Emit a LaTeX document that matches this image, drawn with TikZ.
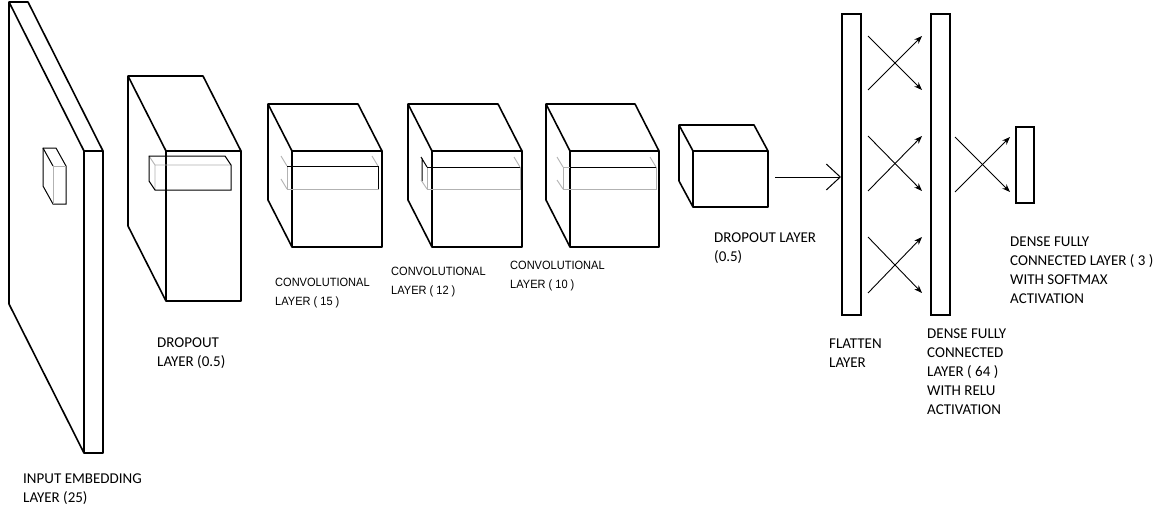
\documentclass[tikz,border=0pt]{standalone}
\usepackage{fontspec}
\setmainfont{Carlito}
\newfontfamily\arialf[FakeStretch=0.92]{Liberation Sans}
\usetikzlibrary{arrows.meta}
\newcommand\drawcuboid[6]{%
  \draw[boxline] (#1,#2) rectangle (#3,#4);
  \draw[boxline] (#1,#2) -- ++(-#5,-#6) -- ++({#3-#1},0) -- (#3,#2);
  \draw[boxline] ({#1-#5},{#2-#6}) -- ({#1-#5},{#4-#6}) -- (#1,#4);
}
\tikzset{
  boxline/.style={line width=1.6pt, line join=round},
  innerdark/.style={line width=1pt, black},
  innerlight/.style={line width=0.9pt, black!30},
  lbl/.style={anchor=base west, inner sep=0pt, align=left,
    font=\fontsize{15}{19}\selectfont},
  clbl/.style={anchor=base west, inner sep=0pt, align=left,
    font=\arialf\fontsize{12}{19}\selectfont},
  bar/.style={draw, line width=1.6pt, inner sep=0pt, fill=white},
  fc/.style={line width=0.9pt, -{Stealth[length=8pt,width=6pt]}},
}
\begin{document}
\begin{tikzpicture}[x=1pt,y=-1pt]
\useasboundingbox (0,0) rectangle (1170,509);
\fill[white] (0,0) rectangle (1170,509);

% input embedding slab
\drawcuboid{84}{151}{103}{453}{75}{149}
% small kernel box
\draw[innerdark] (43,148) -- (56,148) -- (66,166) -- (66,204) -- (53,204) -- (43,186) -- cycle;
\draw[innerdark] (43,148) -- (53,166);
\draw[innerlight] (53,166) -- (66,166) (53,166) -- (53,204);

% dropout 1
\drawcuboid{166}{151}{241}{301}{38}{75}
\draw[innerlight] (149,156) -- (155,165) -- (231,165) (155,165) -- (155,190);
\draw[innerdark] (149,156) -- (225,156) -- (231,165) -- (231,190) -- (155,190) -- (149,181) -- cycle;

% conv 1
\drawcuboid{292}{151}{382}{247}{24}{47}
\draw[innerlight] (287,166) rectangle (378,189);
\draw[innerdark] (287,166) -- (378,166) -- (378,189);
\draw[innerlight] (281,156) -- (287,166) (372,156) -- (378,166) (281,179) -- (287,189);

% conv 2
\drawcuboid{432}{151}{522}{247}{24}{47}
\draw[innerlight] (427,167) rectangle (520,189);
\draw[innerdark] (427,167) -- (520,167);
\draw[innerdark] (422,158) -- (422,181) (421,157) -- (427,167);
\draw[innerlight] (514,157) -- (520,167) (421,180) -- (427,189);

% conv 3
\drawcuboid{570}{151}{659}{247}{24}{47}
\draw[innerlight] (563,167) rectangle (656,189);
\draw[innerdark] (570,167) -- (656,167);
\draw[innerlight] (557,157) -- (563,167) (650,157) -- (656,167) (557,180) -- (563,189);

% dropout 2
\drawcuboid{693}{151}{768}{207}{14}{26}
\coordinate (d2out) at (775,177);

% bars
\node[bar, minimum width=19pt, minimum height=301pt, anchor=north west] (flat) at (841,13) {};
\node[bar, minimum width=19pt, minimum height=301pt, anchor=north west] (dense) at (930,13) {};
\node[bar, minimum width=18pt, minimum height=76pt, anchor=north west] (soft) at (1015,126) {};

\draw[line width=1pt, -{Straight Barb[length=14pt,width=26pt,line width=1pt]}] (d2out) -- (flat.west |- d2out);

% crosses flatten -> dense
\foreach \a/\b in {36/90, 136/191, 237/293}{
  \draw[fc] (868,\a) -- (922,\b);
  \draw[fc] (868,\b) -- (922,\a);
}
% dense -> softmax
\draw[fc] (955,137) -- (1010,192);
\draw[fc] (955,192) -- (1010,137);

% labels (anchor = baseline of last line)
\node[lbl] (l1) at (23,502) {INPUT EMBEDDING\\LAYER (25)};
\node[lbl] (l2) at (157,366) {DROPOUT\\LAYER (0.5)};
\node[clbl] (l3) at (275,305) {CONVOLUTIONAL\\LAYER ( 15 )};
\node[clbl] (l4) at (391,294) {CONVOLUTIONAL\\LAYER ( 12 )};
\node[clbl] (l5) at (510,288) {CONVOLUTIONAL\\LAYER ( 10 )};
\node[lbl] (l6) at (714,261) {DROPOUT LAYER\\(0.5)};
\node[lbl] (l7) at (829,367) {FLATTEN\\LAYER};
\node[lbl] (l8) at (927,414) {DENSE FULLY\\CONNECTED\\LAYER ( 64 )\\WITH RELU\\ACTIVATION};
\node[lbl] (l9) at (1010,303) {DENSE FULLY\\CONNECTED LAYER ( 3 )\\WITH SOFTMAX\\ACTIVATION};
\end{tikzpicture}
\end{document}
